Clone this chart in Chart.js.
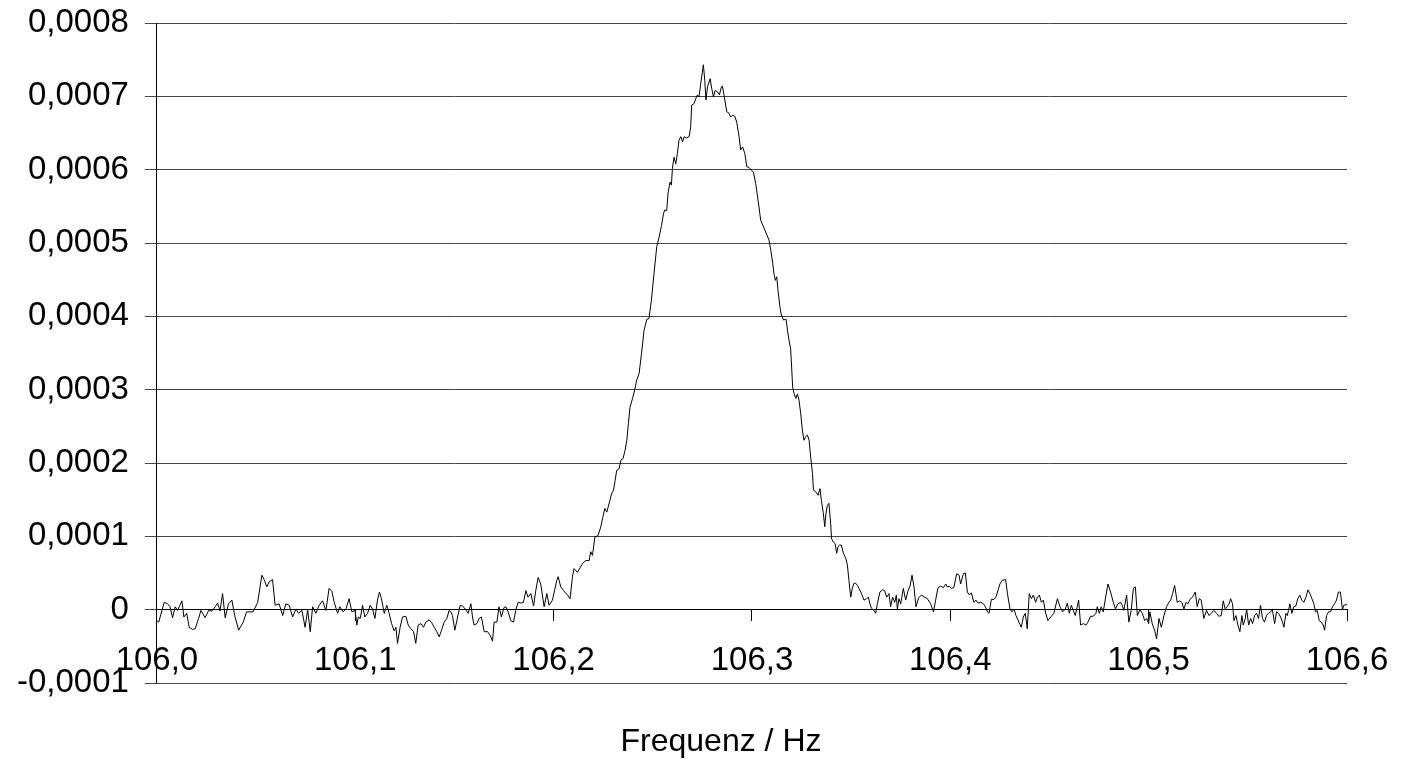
<!DOCTYPE html>
<html>
<head>
<meta charset="utf-8">
<script src="https://cdn.jsdelivr.net/npm/chart.js@4/dist/chart.umd.min.js"></script>
<style>
html, body { margin: 0; padding: 0; background: #fff; }
#wrap { width: 1401px; height: 759px; }
</style>
</head>
<body>
<div id="wrap"><canvas id="spectrum" width="1401" height="759"></canvas></div>
<script>
// Frequenz in Hz
var freq = [
  106.0000, 106.0009, 106.0037, 106.0054, 106.0066, 106.0079, 106.0092, 106.0104, 106.0116, 106.0126,
  106.0136, 106.0150, 106.0163, 106.0180, 106.0193, 106.0210, 106.0222, 106.0243, 106.0261, 106.0277,
  106.0294, 106.0306, 106.0318, 106.0331, 106.0344, 106.0361, 106.0378, 106.0392, 106.0412, 106.0435,
  106.0452, 106.0485, 106.0508, 106.0529, 106.0541, 106.0554, 106.0566, 106.0583, 106.0596, 106.0616,
  106.0634, 106.0650, 106.0667, 106.0684, 106.0701, 106.0714, 106.0731, 106.0747, 106.0760, 106.0773,
  106.0785, 106.0801, 106.0818, 106.0835, 106.0852, 106.0868, 106.0882, 106.0894, 106.0911, 106.0922,
  106.0939, 106.0953, 106.0969, 106.0983, 106.0999,
  106.1008, 106.1015, 106.1025, 106.1037, 106.1048, 106.1062, 106.1075, 106.1087, 106.1099, 106.1112,
  106.1122, 106.1132, 106.1146, 106.1159, 106.1171, 106.1183, 106.1196, 106.1205, 106.1213, 106.1226,
  106.1238, 106.1255, 106.1267, 106.1280, 106.1294, 106.1305, 106.1317, 106.1331, 106.1344, 106.1356,
  106.1372, 106.1384, 106.1398, 106.1411, 106.1423, 106.1435, 106.1448, 106.1462, 106.1473, 106.1482,
  106.1490, 106.1502, 106.1516, 106.1529, 106.1541, 106.1557, 106.1569, 106.1583, 106.1591, 106.1599,
  106.1613, 106.1624, 106.1636, 106.1650, 106.1667, 106.1680, 106.1692, 106.1700, 106.1714, 106.1725,
  106.1737, 106.1750, 106.1759, 106.1771, 106.1784, 106.1798, 106.1809, 106.1821, 106.1835, 106.1848,
  106.1860, 106.1871, 106.1885, 106.1899, 106.1910, 106.1922, 106.1935,
  106.1952, 106.1966, 106.1977, 106.1994, 106.2016, 106.2023, 106.2036, 106.2050, 106.2070, 106.2083,
  106.2095, 106.2103, 106.2120, 106.2146, 106.2162, 106.2179, 106.2187, 106.2196, 106.2208, 106.2224,
  106.2238, 106.2248, 106.2258, 106.2268, 106.2282, 106.2292, 106.2302, 106.2310, 106.2318, 106.2330,
  106.2339, 106.2350, 106.2360, 106.2369, 106.2377, 106.2385,
  106.2398, 106.2409, 106.2419, 106.2431, 106.2443, 106.2456, 106.2470, 106.2481, 106.2493, 106.2506,
  106.2520, 106.2532, 106.2544, 106.2554, 106.2560, 106.2570, 106.2577, 106.2587, 106.2594, 106.2599,
  106.2607, 106.2616, 106.2624, 106.2632, 106.2641, 106.2650, 106.2658, 106.2668, 106.2683, 106.2691,
  106.2696, 106.2708, 106.2717, 106.2725, 106.2733, 106.2742, 106.2750, 106.2755, 106.2762, 106.2768,
  106.2776, 106.2789, 106.2797, 106.2806, 106.2814, 106.2826, 106.2836, 106.2846, 106.2851, 106.2859,
  106.2873, 106.2884, 106.2893, 106.2903, 106.2913, 106.2923, 106.2935, 106.2943, 106.2953, 106.2964,
  106.2974, 106.2985, 106.2997, 106.3007, 106.3019, 106.3031, 106.3044,
  106.3086, 106.3095, 106.3105, 106.3111, 106.3118, 106.3125, 106.3131, 106.3141, 106.3148, 106.3159,
  106.3172, 106.3179, 106.3187, 106.3195, 106.3200, 106.3205, 106.3212, 106.3221, 106.3229, 106.3237,
  106.3246, 106.3254, 106.3262, 106.3271, 106.3280, 106.3288, 106.3296, 106.3305, 106.3310, 106.3321,
  106.3333, 106.3343, 106.3350, 106.3360, 106.3367, 106.3373, 106.3380, 106.3388, 106.3397, 106.3401,
  106.3411, 106.3419, 106.3427, 106.3434, 106.3442, 106.3451, 106.3461, 106.3473, 106.3481, 106.3489,
  106.3498, 106.3506, 106.3514, 106.3523, 106.3532, 106.3540, 106.3552, 106.3565, 106.3578, 106.3587,
  106.3595, 106.3602, 106.3615, 106.3624, 106.3632, 106.3645,
  106.3658, 106.3669, 106.3679, 106.3691, 106.3699, 106.3709, 106.3720, 106.3728, 106.3733, 106.3741,
  106.3750, 106.3763, 106.3775, 106.3787, 106.3797, 106.3807, 106.3817, 106.3827, 106.3840, 106.3854,
  106.3871, 106.3884, 106.3901, 106.3915, 106.3926, 106.3938, 106.3951, 106.3965, 106.3977, 106.3985,
  106.3995, 106.4005, 106.4018, 106.4032, 106.4044, 106.4052, 106.4066, 106.4076, 106.4086, 106.4096,
  106.4106, 106.4119, 106.4129, 106.4139, 106.4153, 106.4167, 106.4177, 106.4187, 106.4195, 106.4207,
  106.4220, 106.4230, 106.4240, 106.4250, 106.4262, 106.4279, 106.4288, 106.4301, 106.4311, 106.4321,
  106.4331, 106.4346, 106.4358, 106.4368, 106.4378, 106.4388, 106.4398, 106.4409, 106.4419, 106.4430,
  106.4439, 106.4449, 106.4459, 106.4469, 106.4481, 106.4492, 106.4506,
  106.4522, 106.4540, 106.4553, 106.4566, 106.4580, 106.4590, 106.4600, 106.4610, 106.4620, 106.4630,
  106.4640, 106.4647, 106.4657, 106.4671, 106.4684, 106.4694, 106.4707, 106.4721, 106.4734, 106.4741,
  106.4751, 106.4761, 106.4771, 106.4785, 106.4795, 106.4808, 106.4822, 106.4833, 106.4845, 106.4859,
  106.4867, 106.4875, 106.4889, 106.4900, 106.4912, 106.4923, 106.4933, 106.4943, 106.4956, 106.4968,
  106.4980, 106.4990, 106.5000, 106.5006, 106.5018, 106.5030, 106.5040, 106.5052, 106.5064, 106.5077,
  106.5090, 106.5102, 106.5111, 106.5121, 106.5131, 106.5144, 106.5157, 106.5167, 106.5178, 106.5188,
  106.5198, 106.5208, 106.5221, 106.5235, 106.5245, 106.5255, 106.5265, 106.5278,
  106.5292, 106.5304, 106.5316, 106.5329, 106.5342, 106.5354, 106.5366, 106.5376, 106.5386, 106.5396,
  106.5406, 106.5413, 106.5423, 106.5430, 106.5440, 106.5450, 106.5460, 106.5470, 106.5477, 106.5487,
  106.5494, 106.5504, 106.5514, 106.5524, 106.5534, 106.5544, 106.5554, 106.5564, 106.5574, 106.5584,
  106.5594, 106.5604, 106.5615, 106.5623, 106.5635, 106.5645, 106.5655, 106.5665, 106.5675, 106.5682,
  106.5692, 106.5699, 106.5705, 106.5712, 106.5722, 106.5732, 106.5742, 106.5752, 106.5762, 106.5772,
  106.5782, 106.5793, 106.5803, 106.5813, 106.5823, 106.5833, 106.5841, 106.5850, 106.5860, 106.5870,
  106.5880, 106.5887, 106.5897, 106.5907, 106.5917, 106.5927, 106.5937, 106.5947, 106.5957, 106.5967,
  106.5977, 106.5984, 106.6000
];

// Amplitude in Einheiten von 1e-6
var amp = [
  -15, -17, 10, 8, 4, -11, 4, -1, 6, 12,
  -10, -5, -24, -27, -26, -12, -1, -11, -1, -2,
  4, 9, -2, 22, -11, 8, 13, -8, -28, -17,
  -3, -3, 10, 47, 41, 31, 38, 41, 6, 8,
  -8, 8, 6, -10, 1, -5, -1, -24, 0, -30,
  4, -5, 6, 12, -1, 29, 25, 10, -5, 4,
  -3, 1, 15, -3, -1,
  -21, -10, -12, 6, -10, -5, 6, 1, -12, 13,
  24, 15, -5, 6, -5, -19, -29, -24, -46, -24,
  -10, -9, -21, -26, -30, -46, -21, -19, -24, -17,
  -14, -17, -24, -30, -37, -28, -17, -12, -1, -3,
  -8, -28, -10, 6, 5, 0, -5, 8, -10, -21,
  -19, -12, -10, -30, -30, -35, -43, -17, -17, 4,
  -10, 3, 4, -3, -15, -17, -1, 10, 9, 10,
  26, 17, 22, 5, 26, 44, 35,
  4, 22, 6, 13, 40, 45, 31, 26, 20, 15,
  45, 56, 51, 63, 67, 67, 79, 74, 99, 101,
  113, 126, 138, 133, 147, 158, 163, 176, 190, 192,
  204, 206, 217, 231, 254, 276,
  288, 300, 313, 322, 349, 381, 396, 397, 422, 458,
  495, 508, 524, 540, 545, 544, 568, 583, 579, 602,
  617, 608, 622, 640, 645, 638, 645, 643, 645, 658,
  688, 690, 697, 702, 699, 718, 733, 743, 722, 695,
  713, 724, 711, 699, 708, 706, 702, 713, 714, 702,
  679, 677, 672, 674, 673, 665, 645, 627, 631, 622,
  604, 603, 599, 597, 581, 558, 531,
  504, 490, 472, 458, 449, 454, 436, 413, 402, 395,
  396, 381, 367, 356, 331, 304, 295, 288, 294, 286,
  267, 245, 231, 236, 238, 231, 208, 186, 163, 161,
  156, 165, 149, 131, 113, 131, 142, 145, 117, 97,
  92, 90, 77, 86, 88, 88, 77, 70, 61, 40,
  17, 29, 36, 36, 33, 29, 22, 13, 15, 17,
  8, 2, -1, -5, 8, 24,
  27, 26, 17, 22, 4, 17, 10, 20, 0, 15,
  8, 29, 13, 26, 32, 47, 31, 4, 16, 20,
  17, 15, 8, -3, 13, 30, 32, 30, 35, 31,
  32, 29, 30, 49, 47, 35, 49, 50, 24, 20,
  23, 10, 13, 9, 10, 8, 4, -3, -5, 14,
  14, 17, 26, 35, 40, 41, 22, 1, -3, 1,
  -8, -17, -24, -10, -5, -26, 22, 15, 20, 10,
  17, 20, 10, 13, -5, -15, -10,
  -5, 15, 4, -3, 1, 9, -5, 6, -1, -8,
  4, 13, -21, -19, -21, -17, -9, -9, -5, 4,
  -5, 4, -3, 20, 35, 24, 10, 1, 8, 10,
  6, -1, 20, -17, -1, 29, 31, -8, 0, -5,
  -15, -12, -19, -3, -19, -28, -40, -12, -24, -8,
  4, 10, 13, 22, 33, 10, 12, 10, 1, 10,
  8, 14, 17, 24, 4, 15, 13, -12,
  -1, -8, -5, -1, -5, -9, -8, 12, 1, 4,
  8, 15, 8, -15, -8, -21, -30, -8, -21, -12,
  1, -21, -12, -19, -8, -5, -12, 6, -12, -17,
  -8, -5, -3, 1, -19, -3, -5, -10, -17, -24,
  -5, -8, -1, 8, -5, 4, 5, 15, 20, 13,
  10, 17, 27, 22, 15, 8, -3, -1, -15, -17,
  -21, -28, -8, -3, -3, 4, 8, 13, 24, 24,
  0, 6, 7
];

var xLabels = ['106,0', '106,1', '106,2', '106,3', '106,4', '106,5', '106,6'];
var yLabels = ['-0,0001', '0', '0,0001', '0,0002', '0,0003', '0,0004', '0,0005', '0,0006', '0,0007', '0,0008'];
var xTitle = 'Frequenz / Hz';

var points = freq.map(function (f, i) {
    return { x: f, y: amp[i] * 1e-6 };
});

Chart.defaults.font.family = '"Liberation Sans", Arial, sans-serif';
Chart.defaults.color = '#000';

// axis title sits below the plot, a bit left of centre
var xTitlePlugin = {
    id: 'xTitle',
    afterDraw: function (chart) {
        var ctx = chart.ctx;
        ctx.save();
        ctx.font = '32px "Liberation Sans", Arial, sans-serif';
        ctx.fillStyle = '#000';
        ctx.textAlign = 'center';
        ctx.textBaseline = 'alphabetic';
        ctx.fillText(xTitle, 721, 751);
        ctx.restore();
    }
};

// let the layout padding alone decide where the plot sits
function noLabelPadding(scale) {
    scale.paddingTop = 0;
    scale.paddingBottom = 0;
    scale.paddingLeft = 0;
    scale.paddingRight = 0;
}

var spectrumChart = new Chart(document.getElementById('spectrum'), {
    type: 'line',
    data: {
        datasets: [{
            data: points,
            borderColor: '#000',
            borderWidth: 1,
            pointRadius: 0,
            tension: 0,
            fill: false
        }]
    },
    options: {
        responsive: false,
        animation: false,
        devicePixelRatio: 1,
        layout: { padding: { left: 1, right: 54, top: 23, bottom: 76 } },
        plugins: {
            legend: { display: false },
            tooltip: { enabled: false },
            title: { display: false }
        },
        scales: {
            x: {
                type: 'linear',
                position: { y: 0 },
                min: 106,
                max: 106.6,
                afterFit: noLabelPadding,
                ticks: {
                    stepSize: 0.1,
                    autoSkip: false,
                    maxRotation: 0,
                    padding: 20,
                    font: { size: 33 },
                    callback: function (v, i) { return xLabels[i]; }
                },
                grid: { drawOnChartArea: false, tickLength: 11, color: '#000' },
                border: { color: '#000', width: 1 }
            },
            y: {
                min: -0.0001,
                max: 0.0008,
                afterFit: noLabelPadding,
                ticks: {
                    stepSize: 0.0001,
                    padding: 16,
                    font: { size: 33 },
                    callback: function (v, i) { return yLabels[i]; }
                },
                grid: { color: '#444', tickLength: 12, lineWidth: 1 },
                border: { color: '#000', width: 1 }
            }
        }
    },
    plugins: [xTitlePlugin]
});
</script>
</body>
</html>
